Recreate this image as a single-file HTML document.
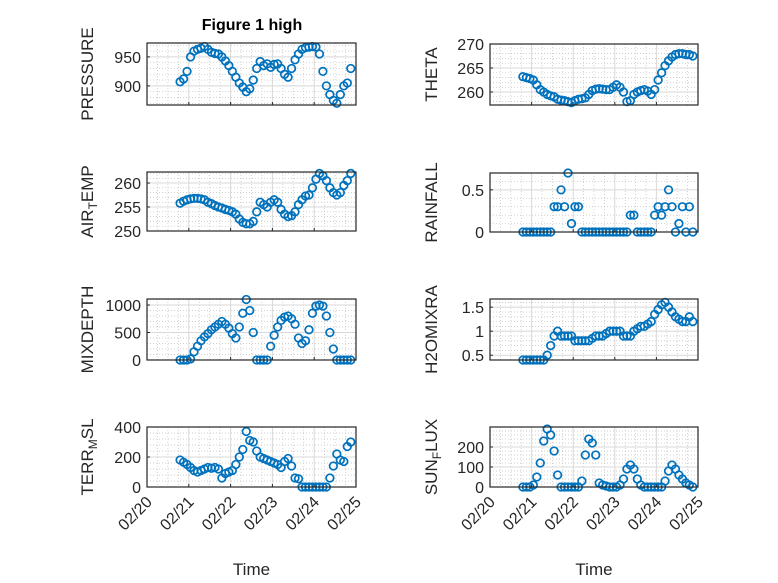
<!DOCTYPE html>
<html><head><meta charset="utf-8"><style>
body{margin:0;background:#fff;}
svg{display:block;font-family:"Liberation Sans",sans-serif;}
</style></head><body>
<svg id="fig" width="778" height="583" viewBox="0 0 778 583">
<rect width="778" height="583" fill="#fff"/>
<text x="252" y="30" font-size="16" font-weight="bold" text-anchor="middle" fill="#000">Figure 1 high</text>
</svg>
<script>
const hours = [19,21,23,25,27,29,31,33,35,37,39,41,43,45,47,49,51,53,55,57,59,61,63,65,67,69,71,73,75,77,79,81,83,85,87,89,91,93,95,97,99,101,103,105,107,109,111,113,115,117];
const xTickLabels = ["02/20","02/21","02/22","02/23","02/24","02/25"];
const pressure = [907,912,925,950,960,963,965,968,963,958,956,955,950,943,935,925,915,905,898,890,895,910,930,942,935,938,932,937,938,930,920,915,930,945,955,963,966,967,968,967,955,925,900,885,875,870,885,900,905,930];
const theta = [263.2,263,262.8,262.5,261.5,260.5,260,259.5,259.2,259,258.5,258.3,258.2,258,257.8,258.2,258.5,258.6,258.8,259.5,260.3,260.6,260.7,260.6,260.5,260.5,261,261.5,261,260,258,258.2,259.5,260,260.3,260.5,260.2,259.5,260.5,262.5,264,265.5,266.5,267.3,267.8,268,268,267.8,267.8,267.5];
const airTemp = [255.8,256.2,256.5,256.7,256.8,256.8,256.7,256.5,256,255.7,255.3,255,254.8,254.5,254.3,254,253.5,252.5,251.8,251.5,251.5,252,254,256,255.5,255,256,256.5,256,254.5,253.5,253,253.2,254,255.5,256.5,257.3,257.5,259,260.8,262,261.5,260.5,259,258,257.5,258,259.5,260.5,262];
const rainfall = [0,0,0,0,0,0,0,0,0,0.3,0.3,0.5,0.3,0.7,0.1,0.3,0.3,0,0,0,0,0,0,0,0,0,0,0,0,0,0,0.2,0.2,0,0,0,0,0,0.2,0.3,0.2,0.3,0.5,0.3,0,0.1,0.3,0,0.3,0];
const mixDepth = [0,0,0,20,150,250,350,420,480,550,600,650,700,650,580,480,400,600,850,1100,900,500,0,0,0,0,250,450,600,720,780,800,750,650,400,300,350,550,850,980,1000,980,800,500,200,0,0,0,0,0];
const h2oMix = [0.4,0.4,0.4,0.4,0.4,0.4,0.4,0.5,0.7,0.9,1.0,0.9,0.9,0.9,0.9,0.8,0.8,0.8,0.8,0.8,0.85,0.9,0.9,0.9,0.95,1.0,1.0,1.0,1.0,0.9,0.9,0.9,1.0,1.05,1.1,1.1,1.15,1.2,1.35,1.45,1.55,1.6,1.5,1.4,1.3,1.25,1.2,1.2,1.3,1.2];
const terrMsl = [180,165,150,130,110,100,110,120,130,125,130,120,60,90,100,110,150,200,250,370,310,300,240,200,190,180,170,160,150,130,170,190,140,60,55,0,0,0,0,0,0,0,0,60,140,220,180,170,270,300];
const sunFlux = [0,0,0,10,50,120,230,290,260,180,60,0,0,0,0,0,0,30,160,240,220,160,20,10,5,0,0,0,10,40,90,110,90,40,10,0,0,0,0,0,0,30,80,110,90,60,40,20,10,0];

const NS="http://www.w3.org/2000/svg";
const svg=document.getElementById('fig');
function mk(tag,attrs,parent){const e=document.createElementNS(NS,tag);for(const k in attrs)e.setAttribute(k,attrs[k]);(parent||svg).appendChild(e);return e;}

const panels=[
 {key:'pressure',data:pressure,x0:147,x1:356,y0:43,y1:105,ymin:867,ymax:974,ticks:[900,950],minor:10,label:['PRESSURE']},
 {key:'theta',data:theta,x0:490,x1:698,y0:44,y1:105,ymin:257.3,ymax:270,ticks:[260,265,270],minor:1,label:['THETA']},
 {key:'air-temp',data:airTemp,x0:147,x1:356,y0:172,y1:231,ymin:250,ymax:262.3,ticks:[250,255,260],minor:1,label:['AIR','T','EMP']},
 {key:'rainfall',data:rainfall,x0:490,x1:698,y0:173,y1:232,ymin:0,ymax:0.7,ticks:[0,0.5],minor:0.1,label:['RAINFALL']},
 {key:'mixdepth',data:mixDepth,x0:147,x1:356,y0:299,y1:360,ymin:0,ymax:1109,ticks:[0,500,1000],minor:100,label:['MIXDEPTH']},
 {key:'h2omixra',data:h2oMix,x0:490,x1:698,y0:299,y1:360,ymin:0.4,ymax:1.67,ticks:[0.5,1,1.5],minor:0.1,label:['H2OMIXRA']},
 {key:'terr-msl',data:terrMsl,x0:147,x1:356,y0:427,y1:487,ymin:0,ymax:400,ticks:[0,200,400],minor:40,label:['TERR','M','SL']},
 {key:'sun-flux',data:sunFlux,x0:490,x1:698,y0:427,y1:487,ymin:0,ymax:300,ticks:[0,100,200],minor:20,label:['SUN','F','LUX']}
];

panels.forEach((p,pi)=>{
  const g=mk('g',{});
  
  
  const xs=d=>p.x0+(d/5)*(p.x1-p.x0);
  const ys=v=>p.y1-(v-p.ymin)/(p.ymax-p.ymin)*(p.y1-p.y0);
  for(let q=1;q<20;q++){ if(q%4===0)continue; const x=xs(q/4);
    const l=mk('line',{x1:x,x2:x,y1:p.y0,y2:p.y1,stroke:'#c0c0c0','stroke-width':0.7,'stroke-dasharray':'1,2'},g);
    }
  const st=Math.ceil(p.ymin/p.minor-1e-9);
  for(let k=st;k*p.minor<=p.ymax+1e-9;k++){const v=k*p.minor; if(p.ticks.some(t=>Math.abs(t-v)<1e-9))continue;
    const y=ys(v); const l=mk('line',{x1:p.x0,x2:p.x1,y1:y,y2:y,stroke:'#c0c0c0','stroke-width':0.7,'stroke-dasharray':'1,2'},g);
    }
  for(let d=1;d<5;d++){const x=xs(d);const l=mk('line',{x1:x,x2:x,y1:p.y0,y2:p.y1,stroke:'#d8d8d8','stroke-width':1},g);
    }
  p.ticks.forEach(t=>{const y=ys(t);const l=mk('line',{x1:p.x0,x2:p.x1,y1:y,y2:y,stroke:'#d8d8d8','stroke-width':1},g);
    
    const tk=mk('line',{x1:p.x0,x2:p.x0+3,y1:y,y2:y,stroke:'#262626'},g);
    
    const tx=mk('text',{x:p.x0-6,y:y+6,'font-size':16,'text-anchor':'end',fill:'#262626'},g);
    tx.textContent=String(t);
    });
  xTickLabels.forEach((lab,i)=>{const x=xs(i);
    const tk=mk('line',{x1:x,x2:x,y1:p.y1,y2:p.y1-3,stroke:'#262626'},g);
    
    if(pi>=6){const ax=x+6, ay=p.y1+16;
      const tx=mk('text',{x:ax,y:ay,'font-size':16,'text-anchor':'end',fill:'#262626',transform:`rotate(-45 ${ax} ${ay})`},g);
      tx.textContent=lab;}});
  p.data.forEach((v,i)=>{const c=mk('circle',{cx:xs(hours[i]/24),cy:ys(v),r:3.8,fill:'none',stroke:'#0072BD','stroke-width':1.7},g);
    });
  const b=mk('rect',{x:p.x0,y:p.y0,width:p.x1-p.x0,height:p.y1-p.y0,fill:'none',stroke:'#262626','stroke-width':1.2},g);
  
  const lx=(pi%2===0)?93:437; const cy=(p.y0+p.y1)/2;
  const t=mk('text',{x:lx,y:cy,'font-size':17,'text-anchor':'middle',fill:'#262626',transform:`rotate(-90 ${lx} ${cy})`},g);
  
  if(p.label.length===1){t.textContent=p.label[0];}
  else{const a=mk('tspan',{},t);a.textContent=p.label[0];
    const s=mk('tspan',{dy:4,'font-size':12},t);s.textContent=p.label[1];
    const e=mk('tspan',{dy:-4},t);e.textContent=p.label[2];}
  if(pi>=6){const xl=mk('text',{x:(p.x0+p.x1)/2,y:575,'font-size':17,'text-anchor':'middle',fill:'#262626'},g);
    xl.textContent='Time';}
});
</script>
</body></html>
